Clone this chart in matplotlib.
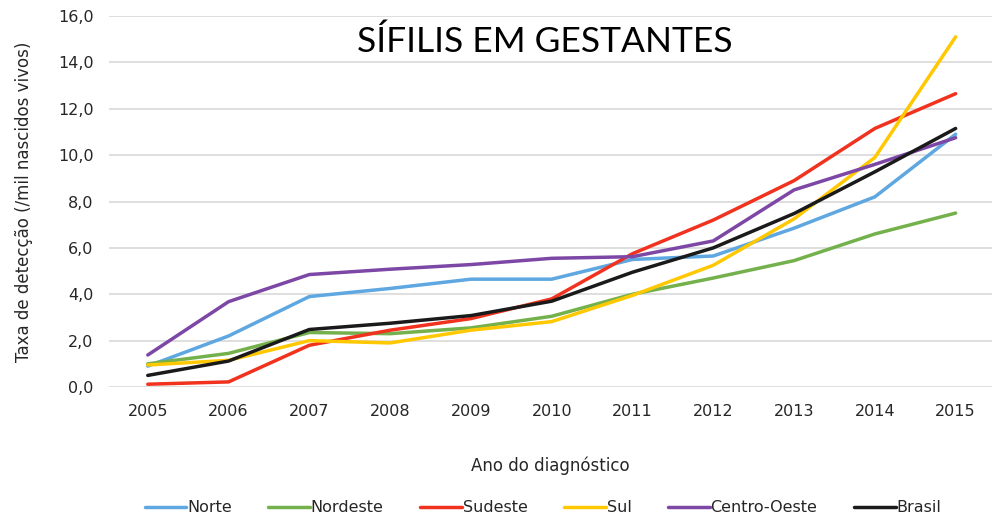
import numpy as np
import matplotlib
matplotlib.use('Agg')
import matplotlib.pyplot as plt
from matplotlib.ticker import FuncFormatter

anos = [2005, 2006, 2007, 2008, 2009, 2010, 2011, 2012, 2013, 2014, 2015]

norte = [0.9, 2.2, 3.9, 4.25, 4.65, 4.65, 5.5, 5.65, 6.85, 8.2, 10.9]
nordeste = [1.0, 1.45, 2.35, 2.3, 2.55, 3.05, 4.0, 4.7, 5.45, 6.6, 7.5]
sudeste = [0.12, 0.22, 1.8, 2.45, 2.95, 3.8, 5.75, 7.2, 8.9, 11.15, 12.65]
sul = [0.95, 1.15, 2.0, 1.9, 2.45, 2.82, 3.95, 5.25, 7.25, 9.9, 15.1]
centro_oeste = [1.38, 3.68, 4.85, 5.08, 5.28, 5.55, 5.62, 6.3, 8.5, 9.6, 10.75]
brasil = [0.5, 1.12, 2.48, 2.75, 3.08, 3.7, 4.95, 6.0, 7.48, 9.28, 11.15]

nomes = ['Norte', 'Nordeste', 'Sudeste', 'Sul', 'Centro-Oeste', 'Brasil']
series = [norte, nordeste, sudeste, sul, centro_oeste, brasil]
cores = ['#5ea7e0', '#74b14c', '#f0321e', '#ffc800', '#7d47a6', '#1a1a1a']

plt.rcParams['font.family'] = ['DejaVu Sans']

fig = plt.figure(figsize=(9.92, 5.19), dpi=100)
ax = fig.add_axes([109 / 992, 1 - 387 / 519, 1 - 109 / 992, (387 - 16) / 519])

for nome, vals, cor in zip(nomes, series, cores):
    ax.plot(anos, vals, color=cor, lw=2.5, label=nome, solid_capstyle='round')

ax.set_ylim(0, 16)
ax.set_xlim(2004.52, 2015.45)
ax.set_yticks(np.arange(0, 17, 2))
ax.set_xticks(anos)
ax.yaxis.set_major_formatter(FuncFormatter(lambda v, p: f'{v:.1f}'.replace('.', ',')))
ax.grid(axis='y', color='#d9d9d9', lw=1.2)
ax.set_axisbelow(True)
for s in ax.spines.values():
    s.set_visible(False)
ax.tick_params(length=0, labelsize=11.5, colors='#262626')
ax.tick_params(axis='y', pad=11)
ax.tick_params(axis='x', pad=12)

ax.set_ylabel('Taxa de detecção (/mil nascidos vivos)', fontsize=12, color='#262626', labelpad=18)
ax.set_xlabel('Ano do diagnóstico', fontsize=12, color='#262626', labelpad=27)

fig.text(545 / 992, 1 - 42 / 519, 'SÍFILIS EM GESTANTES', fontsize=25.5, family=['Lato', 'DejaVu Sans'],
         ha='center', va='center', color='black')

leg = ax.legend(loc='center', bbox_to_anchor=(543 / 992, 1 - 508 / 519), bbox_transform=fig.transFigure,
                ncol=6, frameon=False, fontsize=11.5, handlelength=2.6, handletextpad=0.05,
                columnspacing=2.3)
for t in leg.get_texts():
    t.set_color('#262626')

fig.savefig('out.png', dpi=100)
